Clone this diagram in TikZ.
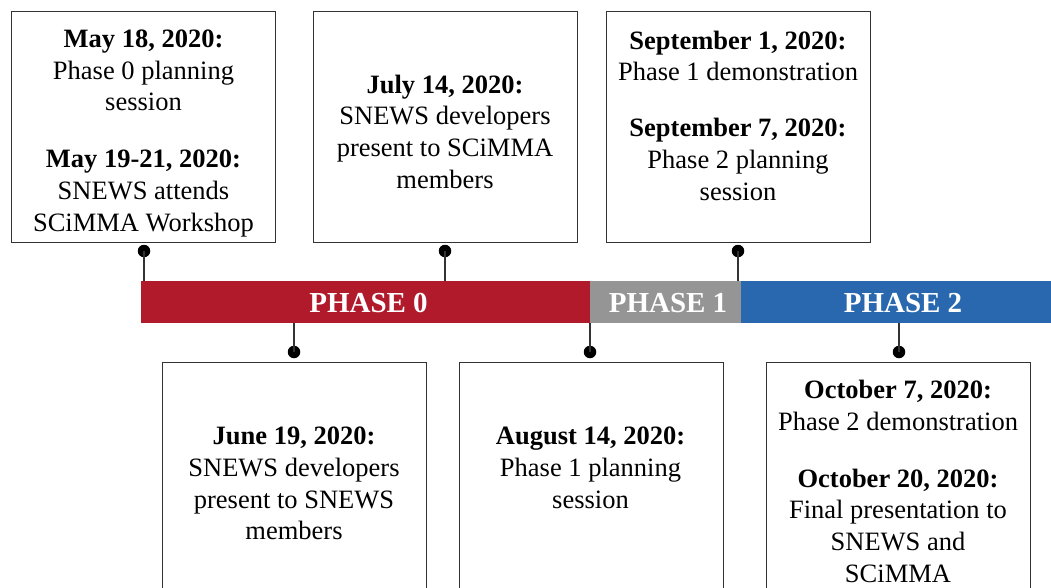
\documentclass[tikz,border=0pt]{standalone}
\usepackage{fontspec}
\setmainfont{Liberation Serif}
\definecolor{pzero}{HTML}{B01A2B}
\definecolor{pone}{HTML}{959595}
\definecolor{ptwo}{HTML}{2968AE}
\definecolor{edge}{HTML}{333333}
\tikzset{
  x=1pt, y=-1pt,
  evbox/.style={draw=edge, line width=1.4pt, fill=white, rectangle, inner sep=0pt, minimum width=264pt, anchor=north west},
  evtext/.style={align=center, font=\fontsize{26.5}{31.7}\selectfont, inner sep=0pt, text=black},
  barseg/.style={rectangle, inner sep=0pt, minimum height=42pt, anchor=west, draw=none},
  phaselabel/.style={text=white, font=\fontsize{29}{32}\selectfont\bfseries, inner sep=0pt},
  dot/.style={circle, fill=black, inner sep=0pt, minimum size=12.5pt},
  stem/.style={draw=edge, line width=1.3pt},
}
\begin{document}
\begin{tikzpicture}
\useasboundingbox (0,0) rectangle (1051,587);
\clip (0,0) rectangle (1051,587);
\fill[white] (0,0) rectangle (1051,587);

% timeline bar
\node[barseg, fill=pzero, minimum width=449pt] (p0) at (141,302) {};
\node[barseg, fill=pone, minimum width=151pt] (p1) at (590,302) {};
\node[barseg, fill=ptwo, minimum width=320pt] (p2) at (741,302) {};
\node[phaselabel] (l0) at (368.5,303) {PHASE 0};
\node[phaselabel] (l1) at (668,303) {PHASE 1};
\node[phaselabel] (l2) at (903,303) {PHASE 2};

% top boxes
\node[evbox, minimum height=231pt] (bA) at (11,11) {};
\node[evbox, minimum height=231pt] (bB) at (313,11) {};
\node[evbox, minimum height=231pt] (bC) at (606,11) {};
% bottom boxes
\node[evbox, minimum height=260pt] (bD) at (162,362) {};
\node[evbox, minimum height=260pt] (bE) at (459,362) {};
\node[evbox, minimum height=260pt] (bF) at (766,362) {};

% texts
\node[evtext] (tA) at (143.5,133.5) {\textbf{May 18, 2020:}\\ Phase 0 planning\\ session\\[25.3pt] \textbf{May 19-21, 2020:}\\ SNEWS attends\\ SCiMMA Workshop};
\node[evtext] (tB) at (445,131.5) {\textbf{July 14, 2020:}\\ SNEWS developers\\ present to SCiMMA\\ members};
\node[evtext] (tC) at (738,115.5) {\textbf{September 1, 2020:}\\ Phase 1 demonstration\\[24.3pt] \textbf{September 7, 2020:}\\ Phase 2 planning\\ session};
\node[evtext] (tD) at (294,483.5) {\textbf{June 19, 2020:}\\ SNEWS developers\\ present to SNEWS\\ members};
\node[evtext] (tE) at (590.5,468) {\textbf{August 14, 2020:}\\ Phase 1 planning\\ session};
\node[evtext, anchor=north] (tF) at (898,380) {\textbf{October 7, 2020:}\\ Phase 2 demonstration\\[25.3pt] \textbf{October 20, 2020:}\\ Final presentation to\\ SNEWS and\\ SCiMMA};

% connector dots
\node[dot] (dA) at (144,251) {};
\node[dot] (dB) at (445,251) {};
\node[dot] (dC) at (738,251) {};
\node[dot] (dD) at (294,352) {};
\node[dot] (dE) at (590,352) {};
\node[dot] (dF) at (899,352) {};

\draw[stem] (dA.center) -- (dA |- p0.north);
\draw[stem] (dB.center) -- (dB |- p0.north);
\draw[stem] (dC.center) -- (dC |- p1.north);
\draw[stem] (dD.center) -- (dD |- p0.south);
\draw[stem] (dE.center) -- (dE |- p0.south);
\draw[stem] (dF.center) -- (dF |- p2.south);
\end{tikzpicture}
\end{document}
